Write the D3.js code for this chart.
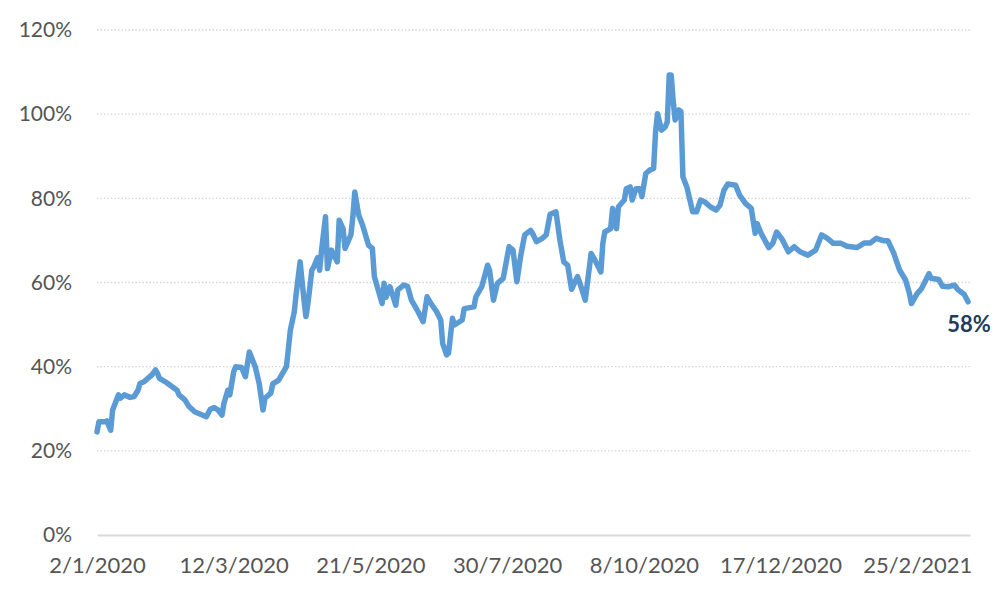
<!DOCTYPE html>
<html>
<head>
<meta charset="utf-8">
<script src="https://cdn.jsdelivr.net/npm/d3@7"></script>
<style>
  html, body { margin: 0; padding: 0; background: #ffffff; }
  svg { display: block; }
</style>
</head>
<body>
<svg id="chart" width="1000" height="599"></svg>
<script>
// ---- Data ----
const dates = [
  "2020-01-02","2020-01-03","2020-01-06","2020-01-07","2020-01-09","2020-01-10","2020-01-13","2020-01-14","2020-01-16","2020-01-19",
  "2020-01-21","2020-01-23","2020-01-24","2020-01-26","2020-01-28","2020-01-30","2020-02-01","2020-02-02","2020-02-03","2020-02-06",
  "2020-02-09","2020-02-12","2020-02-13","2020-02-16","2020-02-18","2020-02-21","2020-02-24","2020-02-27","2020-02-29","2020-03-02",
  "2020-03-04","2020-03-06","2020-03-07","2020-03-09","2020-03-10","2020-03-12","2020-03-13","2020-03-16","2020-03-18","2020-03-20",
  "2020-03-23","2020-03-25","2020-03-27","2020-03-28","2020-03-31","2020-04-01","2020-04-04","2020-04-06","2020-04-08","2020-04-09",
  "2020-04-10","2020-04-12","2020-04-13","2020-04-15","2020-04-17","2020-04-18","2020-04-19","2020-04-21","2020-04-22","2020-04-24",
  "2020-04-25","2020-04-26","2020-04-28","2020-04-29","2020-05-01","2020-05-04","2020-05-05","2020-05-07","2020-05-08","2020-05-11",
  "2020-05-12","2020-05-13","2020-05-15","2020-05-17","2020-05-20","2020-05-22","2020-05-23","2020-05-25","2020-05-27","2020-05-28",
  "2020-05-29","2020-05-31","2020-06-03","2020-06-04","2020-06-07","2020-06-09","2020-06-11","2020-06-14","2020-06-17","2020-06-19",
  "2020-06-21","2020-06-24","2020-06-26","2020-06-27","2020-06-29","2020-06-30","2020-07-02","2020-07-03","2020-07-07","2020-07-08",
  "2020-07-13","2020-07-14","2020-07-17","2020-07-20","2020-07-21","2020-07-23","2020-07-25","2020-07-28","2020-07-31","2020-08-02",
  "2020-08-04","2020-08-06","2020-08-08","2020-08-11","2020-08-12","2020-08-14","2020-08-17","2020-08-19","2020-08-21","2020-08-24",
  "2020-08-26","2020-08-28","2020-08-30","2020-09-01","2020-09-04","2020-09-05","2020-09-08","2020-09-11","2020-09-13","2020-09-16",
  "2020-09-17","2020-09-18","2020-09-21","2020-09-22","2020-09-24","2020-09-25","2020-09-28","2020-09-29","2020-10-01","2020-10-02",
  "2020-10-04","2020-10-06","2020-10-07","2020-10-09","2020-10-11","2020-10-13","2020-10-14","2020-10-15","2020-10-17","2020-10-19",
  "2020-10-20","2020-10-21","2020-10-22","2020-10-23","2020-10-24","2020-10-26","2020-10-27","2020-10-28","2020-10-30","2020-11-02",
  "2020-11-04","2020-11-06","2020-11-08","2020-11-11","2020-11-14","2020-11-16","2020-11-18","2020-11-20","2020-11-24","2020-11-26",
  "2020-11-29","2020-12-02","2020-12-04","2020-12-05","2020-12-07","2020-12-11","2020-12-13","2020-12-15","2020-12-18","2020-12-21",
  "2020-12-24","2020-12-27","2020-12-31","2021-01-04","2021-01-07","2021-01-10","2021-01-13","2021-01-17","2021-01-20","2021-01-25",
  "2021-01-29","2021-02-01","2021-02-04","2021-02-08","2021-02-10","2021-02-13","2021-02-16","2021-02-19","2021-02-21","2021-02-22",
  "2021-02-25","2021-02-27","2021-03-03","2021-03-04","2021-03-08","2021-03-10","2021-03-13","2021-03-16","2021-03-18","2021-03-21",
  "2021-03-23"
];
const values = [
  24.5, 26.9, 26.9, 27.1, 24.9, 29.7, 33.3, 32.5, 33.3, 32.7,
  32.9, 34.4, 36.0, 36.4, 37.2, 38.0, 39.2, 38.4, 37.2, 36.4,
  35.4, 34.4, 33.3, 32.1, 30.6, 29.3, 28.7, 28.1, 29.9, 30.3,
  29.7, 28.5, 31.3, 34.4, 33.3, 38.8, 40.0, 39.8, 37.6, 43.5,
  40.0, 36.1, 29.7, 32.5, 33.7, 35.9, 36.8, 38.4, 40.0, 44.3,
  48.7, 53.0, 57.4, 64.9, 55.8, 51.9, 55.0, 62.9, 63.7, 65.9,
  62.9, 67.7, 75.6, 63.3, 67.7, 64.9, 74.8, 72.8, 68.1, 71.3,
  75.6, 81.5, 76.0, 73.6, 68.9, 68.1, 61.4, 58.2, 55.0, 59.8,
  56.5, 59.0, 54.6, 58.2, 59.4, 59.1, 55.8, 53.4, 50.7, 56.6,
  55.0, 53.0, 51.1, 45.5, 42.8, 43.2, 51.5, 49.9, 51.1, 53.8,
  54.2, 56.6, 59.0, 64.1, 62.9, 55.8, 59.8, 61.0, 68.5, 67.7,
  60.2, 66.5, 71.3, 72.4, 71.7, 69.7, 70.5, 71.3, 76.2, 76.8,
  70.1, 64.9, 64.1, 58.4, 61.4, 60.2, 55.8, 66.9, 65.3, 62.5,
  69.3, 72.0, 72.8, 77.6, 72.8, 78.0, 79.6, 82.3, 82.7, 79.6,
  82.3, 82.3, 80.4, 85.9, 86.7, 87.1, 95.8, 100.1, 96.2, 97.0,
  98.2, 109.3, 109.3, 103.3, 98.6, 101.0, 100.6, 85.1, 82.7, 76.8,
  76.8, 79.6, 79.2, 78.0, 77.2, 78.4, 81.9, 83.4, 83.1, 80.8,
  78.8, 77.6, 71.7, 74.0, 71.7, 68.3, 69.3, 72.0, 70.1, 67.3,
  68.5, 67.3, 66.5, 67.7, 71.3, 70.5, 69.3, 69.3, 68.6, 68.3,
  69.4, 69.4, 70.5, 69.9, 69.9, 66.9, 62.9, 60.6, 57.4, 55.0,
  57.4, 58.4, 62.1, 61.0, 60.7, 59.1, 59.0, 59.4, 58.2, 57.2,
  55.4
];
const xTickDates  = ["2020-01-02","2020-03-12","2020-05-21","2020-07-30","2020-10-08","2020-12-17","2021-02-25"];
const xTickLabels = ["2/1/2020","12/3/2020","21/5/2020","30/7/2020","8/10/2020","17/12/2020","25/2/2021"];
const yTicks      = [0, 20, 40, 60, 80, 100, 120];
const xDomain     = ["2020-01-02", "2021-03-24"];
const endLabel    = "58%";

// ---- Chart ----
const parse = d3.utcParse("%Y-%m-%d");
const data = dates.map((d, i) => ({ date: parse(d), value: values[i] }));

const margin = { left: 97, right: 30, top: 30, bottom: 64 };
const W = 1000, H = 599;
const svg = d3.select("#chart");
const FONT = "Lato, 'Open Sans', sans-serif";

const x = d3.scaleUtc()
  .domain(xDomain.map(parse))
  .range([margin.left, W - margin.right]);
const y = d3.scaleLinear()
  .domain([0, 120])
  .range([H - margin.bottom, margin.top]);

// gridlines (dotted) for non-zero ticks
svg.append("g")
  .selectAll("line")
  .data(yTicks.filter(t => t !== 0))
  .join("line")
  .attr("x1", x.range()[0])
  .attr("x2", x.range()[1])
  .attr("y1", d => y(d))
  .attr("y2", d => y(d))
  .attr("stroke", "#cfcfcf")
  .attr("stroke-width", 1.3)
  .attr("stroke-dasharray", "1.3,2.2");

// y axis labels
const yAxis = d3.axisLeft(y)
  .tickValues(yTicks)
  .tickFormat(d => d + "%")
  .tickSize(0)
  .tickPadding(25);
const gy = svg.append("g")
  .attr("transform", `translate(${margin.left},0)`)
  .call(yAxis);
gy.select(".domain").remove();
gy.selectAll("text")
  .attr("font-family", FONT)
  .attr("font-size", 21)
  .attr("fill", "#555555");

// x axis: solid baseline + labels
const xAxis = d3.axisBottom(x)
  .tickValues(xTickDates.map(parse))
  .tickFormat((d, i) => xTickLabels[i])
  .tickSize(0)
  .tickPadding(22);
const gx = svg.append("g")
  .attr("transform", `translate(0,${y(0)})`)
  .call(xAxis);
gx.select(".domain")
  .attr("stroke", "#d9d9d9")
  .attr("stroke-width", 2);
gx.selectAll("text")
  .attr("font-family", FONT)
  .attr("font-size", 22)
  .attr("fill", "#555555");

// line
const line = d3.line()
  .x(d => x(d.date))
  .y(d => y(d.value));
svg.append("path")
  .datum(data)
  .attr("fill", "none")
  .attr("stroke", "#5b9bd5")
  .attr("stroke-width", 5.5)
  .attr("stroke-linejoin", "round")
  .attr("stroke-linecap", "round")
  .attr("d", line);

// end label
const last = data[data.length - 1];
svg.append("text")
  .attr("x", x(last.date) + 1)
  .attr("y", y(last.value) + 30)
  .attr("text-anchor", "middle")
  .attr("font-family", FONT)
  .attr("font-weight", "bold")
  .attr("font-size", 22)
  .attr("fill", "#1f3c5c")
  .text(endLabel);
</script>
</body>
</html>
